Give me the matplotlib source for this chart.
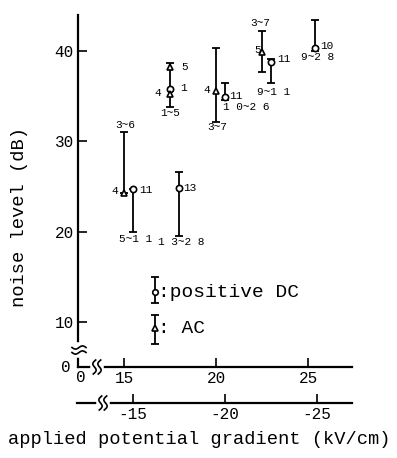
import numpy as np
import matplotlib.pyplot as plt
from matplotlib.lines import Line2D

plt.rcParams['font.family'] = ['Liberation Mono', 'DejaVu Sans Mono']
plt.rcParams['axes.unicode_minus'] = False

W, H = 397, 458

# positive DC (circle)
dc_x = [15.5, 17.5, 18.0, 20.5, 23.0, 25.4]
dc_y = [24.7, 35.8, 24.8, 34.9, 38.8, 40.3]
# AC (triangle)
ac_x = [15.0, 17.5, 17.5, 20.0, 22.5]
ac_y = [24.3, 38.2, 35.2, 35.6, 39.9]
# range bars
bar_x = [15.0, 15.5, 17.5, 18.0, 20.0, 20.5, 22.5, 23.0, 25.4]
bar_lo = [24.3, 20.0, 33.8, 19.5, 32.2, 34.6, 37.7, 36.5, 40.0]
bar_hi = [31.0, 24.7, 38.7, 26.6, 40.4, 36.5, 42.2, 39.1, 43.4]

# month labels (text, x, y)
month_labels = [
    ("3~6", 15.05, 31.8), ("4", 14.5, 24.5), ("11", 16.2, 24.6),
    ("5~1 1", 15.65, 19.2), ("13", 18.55, 24.8), ("1 3~2 8", 18.1, 18.9),
    ("5", 18.32, 38.2), ("4", 16.85, 35.35), ("1", 18.26, 35.9),
    ("1~5", 17.5, 33.1), ("4", 19.5, 35.7), ("3~7", 20.05, 31.6),
    ("11", 21.1, 35.0), ("1 0~2 6", 21.63, 33.8), ("3~7", 22.39, 43.1),
    ("5", 22.28, 40.1), ("11", 23.7, 39.1), ("9~1 1", 23.15, 35.5),
    ("10", 26.0, 40.55), ("9~2 8", 25.54, 39.35),
]

xticks_top = [15, 20, 25]
xticks_bot = [-15, -20, -25]
yticks = [10, 20, 30, 40]

fig = plt.figure(figsize=(W / 100, H / 100), dpi=100)
ax = fig.add_axes([78 / W, 1 - 367 / H, 274 / W, 352 / H])
ax.set_xlim(12.5, 27.39)
ax.set_ylim(5.02, 44.0)
for s in ['top', 'right']:
    ax.spines[s].set_visible(False)
for s in ['left', 'bottom']:
    ax.spines[s].set_linewidth(1.6)
ax.set_xticks(xticks_top)
ax.set_yticks(yticks)
ax.tick_params(axis='both', direction='in', length=6.5, width=1.2,
               labelsize=11.5, pad=3)

ax.errorbar(bar_x, bar_lo, yerr=[np.zeros(len(bar_x)), np.array(bar_hi) - np.array(bar_lo)],
            fmt='none', ecolor='black', elinewidth=1.3, capsize=3, capthick=1.3)
ax.plot(dc_x, dc_y, 'o', ms=4.5, mfc='white', mec='black', mew=1.2)
ax.plot(ac_x, ac_y, '^', ms=4.5, mfc='white', mec='black', mew=1.2)

for t, x, y in month_labels:
    ax.text(x, y, t, fontsize=8, ha='center', va='center')

# legend
ax.errorbar([16.7], [12.1], yerr=[[0], [2.9]], fmt='none', ecolor='black',
            elinewidth=1.3, capsize=3, capthick=1.3)
ax.plot([16.7], [13.3], 'o', ms=4, mfc='white', mec='black', mew=1.2)
ax.text(16.85, 13.3, ':positive DC', fontsize=14, va='center')
ax.errorbar([16.7], [7.6], yerr=[[0], [3.2]], fmt='none', ecolor='black',
            elinewidth=1.3, capsize=3, capthick=1.3)
ax.plot([16.7], [9.3], '^', ms=4, mfc='white', mec='black', mew=1.2)
ax.text(16.85, 9.3, ': AC', fontsize=14, va='center')

# second (negative) axis
ax2 = fig.add_axes([77 / W, 1 - 403 / H, 275 / W, 0.001])
ax2.set_xlim(-11.95, -26.9)
ax2.patch.set_visible(False)
for s in ['top', 'right', 'left']:
    ax2.spines[s].set_visible(False)
ax2.spines['bottom'].set_linewidth(1.6)
ax2.set_yticks([])
ax2.set_xticks(xticks_bot)
ax2.tick_params(axis='x', direction='in', length=6.5, width=1.2,
                labelsize=11.5, pad=3)

fig.text(66 / W, 1 - 367 / H, '0', fontsize=11.5, ha='center', va='center')
fig.text(81 / W, 1 - 377 / H, '0', fontsize=11.5, ha='center', va='center')

fig.text(199 / W, 1 - 440 / H, 'applied potential gradient (kV/cm)',
         fontsize=13.5, ha='center', va='center')
fig.text(20 / W, 1 - 217 / H, 'noise level (dB)', fontsize=13.5,
         ha='center', va='center', rotation=90)


def pline(xs, ys, **kw):
    fig.add_artist(Line2D(np.asarray(xs) / W, 1 - np.asarray(ys) / H,
                          transform=fig.transFigure, **kw))


# axis breaks
pline([78, 78], [345, 355], color='white', lw=4)
t = np.linspace(0, 1, 30)
for yc in [347.5, 352.5]:
    pline(72 + 14 * t, yc + 1.6 * np.sin(2 * np.pi * t), color='black', lw=1.2)

for cx, cy in [(97, 367), (103, 403)]:
    pline([cx - 4, cx + 4], [cy, cy], color='white', lw=4)
    s = np.linspace(-1, 1, 30)
    for dx in [-2.5, 2.5]:
        pline(cx + dx + 2.2 * np.sin(np.pi * s) - 1.2 * s, cy + 7 * s,
              color='black', lw=1.2)

fig.savefig('out.png', dpi=100)
